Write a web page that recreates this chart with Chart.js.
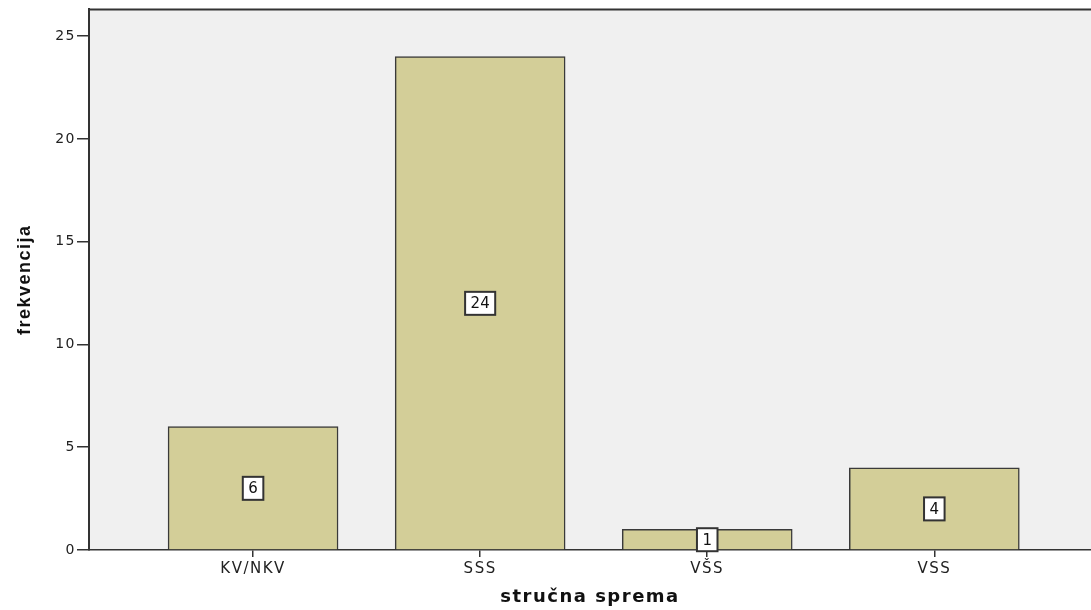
<!DOCTYPE html>
<html lang="hr">
<head>
  <meta charset="utf-8">
  <title>stručna sprema</title>
  <script src="https://cdn.jsdelivr.net/npm/chart.js"></script>
  <style>
    html, body { margin: 0; padding: 0; background: #ffffff; }
    #wrap { width: 1091px; height: 610px; }
  </style>
</head>
<body>
<div id="wrap"><canvas id="sprema"></canvas></div>

<script>
  // data
  const categories = ['KV/NKV', 'SSS', 'VŠS', 'VSS'];
  const frekvencija = [6, 24, 1, 4];
  const yTicks = [0, 5, 10, 15, 20, 25];

  // plot background, top border and the value boxes in the middle of each bar
  const spssLook = {
    id: 'spssLook',
    beforeDraw(chart) {
      const { ctx, chartArea: a } = chart;
      ctx.letterSpacing = '1.5px';
      ctx.save();
      ctx.fillStyle = '#f0f0f0';
      ctx.fillRect(a.left, a.top, a.right - a.left, a.bottom - a.top);
      ctx.strokeStyle = '#333333';
      ctx.lineWidth = 2;
      ctx.beginPath();
      ctx.moveTo(a.left, a.top);
      ctx.lineTo(a.right, a.top);
      ctx.stroke();
      ctx.restore();
    },
    afterDatasetsDraw(chart) {
      const { ctx } = chart;
      const yScale = chart.scales.y;
      const meta = chart.getDatasetMeta(0);
      ctx.save();
      ctx.letterSpacing = '0px';
      ctx.font = '15px "DejaVu Sans"';
      ctx.textAlign = 'center';
      ctx.textBaseline = 'middle';
      meta.data.forEach((bar, i) => {
        const v = frekvencija[i];
        const txt = String(v);
        const w = ctx.measureText(txt).width + 11;
        const h = 23;
        const cx = bar.x;
        const cy = yScale.getPixelForValue(v / 2);
        ctx.fillStyle = '#ffffff';
        ctx.fillRect(cx - w / 2, cy - h / 2, w, h);
        ctx.strokeStyle = '#333333';
        ctx.lineWidth = 2;
        ctx.strokeRect(cx - w / 2, cy - h / 2, w, h);
        ctx.fillStyle = '#111111';
        ctx.fillText(txt, cx, cy + 1);
      });
      ctx.restore();
    }
  };

  const ctx = document.getElementById('sprema').getContext('2d');
  new Chart(ctx, {
    type: 'bar',
    data: {
      datasets: [{
        label: 'frekvencija',
        data: frekvencija.map((v, i) => ({ x: i + 1, y: v })),
        backgroundColor: '#d3ce98',
        borderColor: '#3a3a3a',
        borderWidth: 1.5,
        barThickness: 170
      }]
    },
    options: {
      responsive: true,
      maintainAspectRatio: false,
      animation: false,
      layout: { padding: { top: 8, right: 0, left: 0, bottom: 0 } },
      plugins: {
        legend: { display: false },
        tooltip: { enabled: false }
      },
      scales: {
        x: {
          type: 'linear',
          offset: false,
          min: 0.2775,
          max: 4.69,
          afterBuildTicks: scale => {
            scale.ticks = categories.map((c, i) => ({ value: i + 1 }));
          },
          afterFit: scale => { scale.height = 60; },
          ticks: {
            autoSkip: false,
            maxRotation: 0,
            padding: 3,
            color: '#222222',
            font: { family: 'DejaVu Sans', size: 15 },
            callback: v => categories[v - 1]
          },
          grid: {
            offset: false,
            drawOnChartArea: false,
            drawTicks: true,
            tickLength: 7,
            color: '#333333',
            lineWidth: 1.5
          },
          border: { display: true, color: '#333333', width: 1.5 },
          title: {
            display: true,
            text: 'stručna sprema',
            color: '#111111',
            font: { family: 'DejaVu Sans', size: 18, weight: 'bold' },
            padding: { top: 0, bottom: 2 }
          }
        },
        y: {
          min: 0,
          max: 26.3,
          afterBuildTicks: scale => {
            scale.ticks = yTicks.map(v => ({ value: v }));
          },
          afterFit: scale => { scale.width = 89; },
          ticks: {
            padding: 1,
            color: '#222222',
            font: { family: 'DejaVu Sans', size: 14 }
          },
          grid: {
            drawOnChartArea: false,
            drawTicks: true,
            tickLength: 12,
            color: '#333333',
            lineWidth: 1.5
          },
          border: { display: true, color: '#333333', width: 2 },
          title: {
            display: true,
            text: 'frekvencija',
            color: '#111111',
            font: { family: 'Liberation Sans', size: 18, weight: 'bold' },
            padding: { top: 14, bottom: 0 }
          }
        }
      }
    },
    plugins: [spssLook]
  });
</script>
</body>
</html>
